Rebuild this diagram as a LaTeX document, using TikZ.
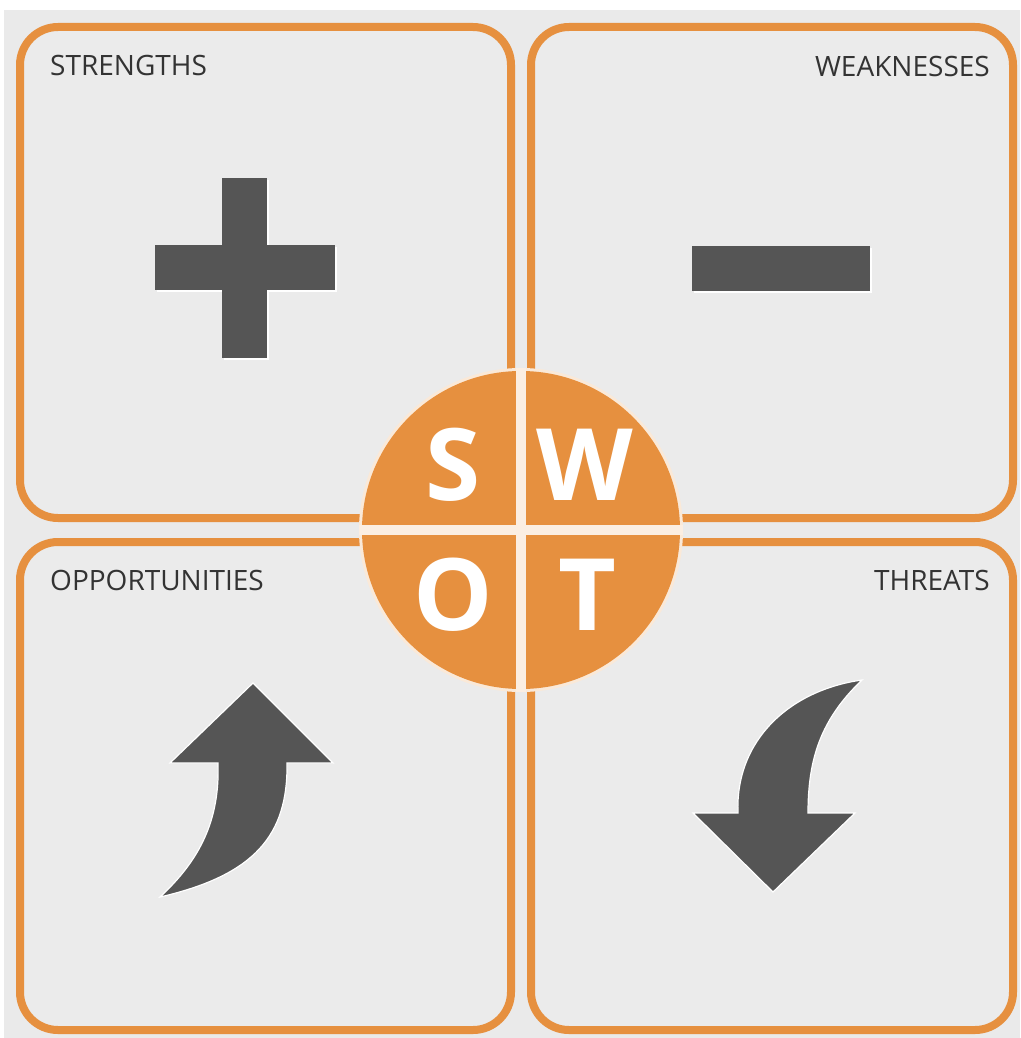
\documentclass[tikz,border=0pt]{standalone}
\usepackage{fontspec}
\setmainfont{Open Sans}
\definecolor{swotorange}{HTML}{E6903F}
\definecolor{bggray}{HTML}{EAEAEA}
\definecolor{boxgray}{HTML}{EBEBEB}
\definecolor{icongray}{HTML}{555555}
\definecolor{labelgray}{HTML}{333333}
\tikzset{
  panel/.style={draw=swotorange, line width=8pt, rounded corners=38pt, fill=boxgray},
  icon/.style={fill=icongray, draw=white, line width=1.2pt},
  lbl/.style={text=labelgray, font=\fontsize{28}{32}\selectfont, inner sep=0pt},
  letter/.style={text=white, font=\bfseries\fontsize{100}{110}\selectfont, inner sep=0pt},
}
\begin{document}
\begin{tikzpicture}[x=1pt,y=-1pt]
\useasboundingbox (0,0) rectangle (1020,1038);
\fill[white] (0,0) rectangle (1020,1038);
\fill[bggray] (4,10) rectangle (1020,1038);
% panels
\draw[panel] (20,27) rectangle (511,518);
\draw[panel] (531,27) rectangle (1013,518);
\draw[panel] (20,542) rectangle (511,1030);
\draw[panel] (531,542) rectangle (1013,1030);
% labels
\node[lbl, anchor=base west] (s) at (50,76) {STRENGTHS};
\node[lbl, anchor=base east] (w) at (990,77) {WEAKNESSES};
\node[lbl, anchor=base west] (o) at (50,590) {OPPORTUNITIES};
\node[lbl, anchor=base east] (t) at (990,590) {THREATS};
% plus
\fill[white] (224,180) rectangle (269,360);
\fill[white] (157,247) rectangle (337,292);
\fill[icongray] (222,178) rectangle (267,358);
\fill[icongray] (155,245) rectangle (335,290);
% minus
\fill[white] (694,248) rectangle (872,293);
\fill[icongray] (692,246) rectangle (870,291);
% up arrow
\path[icon] (253,683) -- (333,763) -- (287,763)
  .. controls (288,835) and (255,875) .. (160,897)
  .. controls (200,860) and (220,820) .. (218,763)
  -- (170,763) -- cycle;
% down arrow
\path[icon] (862,680) .. controls (790,690) and (735,740) .. (738,813)
  -- (693,813) -- (773,892) -- (855,813) -- (808,813)
  .. controls (808,760) and (820,720) .. (862,680) -- cycle;
% circle
\fill[white!80!swotorange] (521,530) circle (162);
\fill[swotorange] (521,530) circle (159);
\fill[white!85!swotorange] (516,368) rectangle (526,692);
\fill[white!85!swotorange] (359,525) rectangle (683,535);
\node[letter] (ls) at (453,465) {S};
\node[letter] (lw) at (585,465) {W};
\node[letter] (lo) at (453,595) {O};
\node[letter] (lt) at (587,595) {T};
\end{tikzpicture}
\end{document}
